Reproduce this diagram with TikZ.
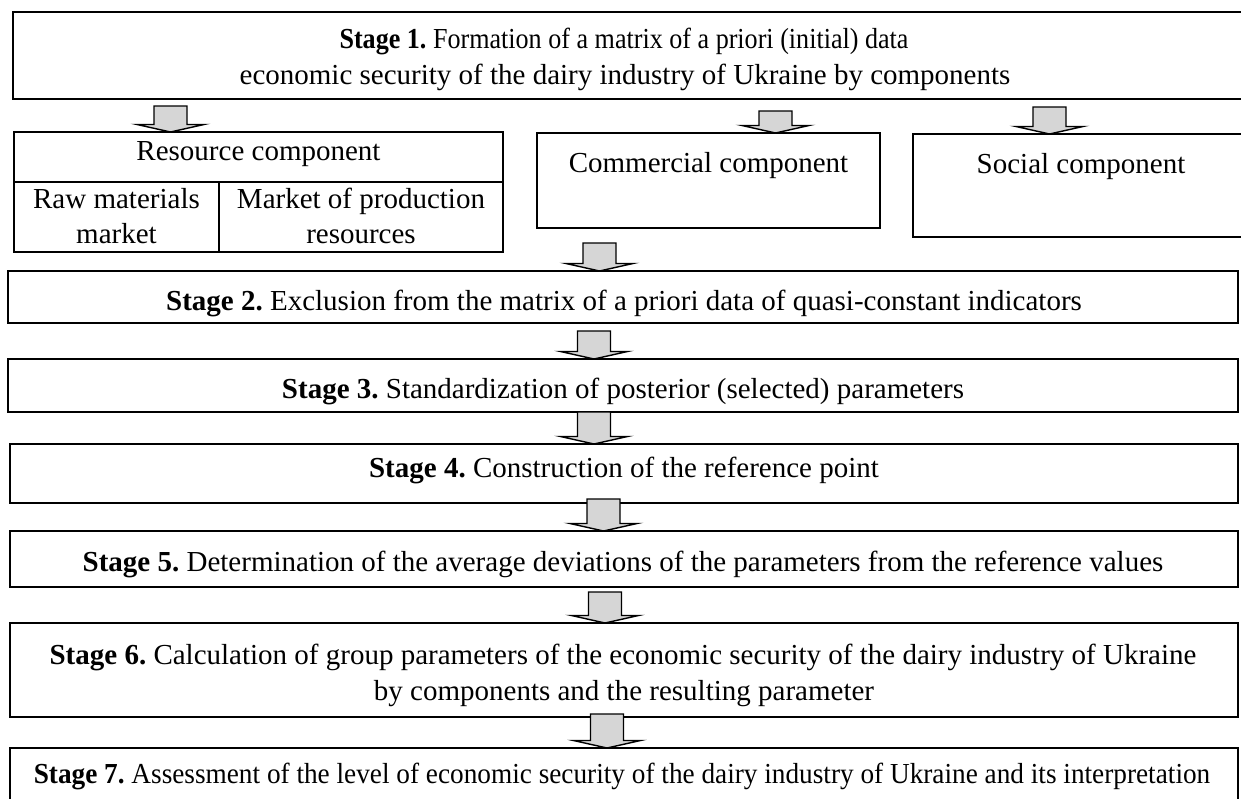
\documentclass[tikz,border=0pt]{standalone}
\usepackage{fontspec}
\setmainfont{Liberation Serif}
\usetikzlibrary{calc}

\definecolor{arrowgray}{RGB}{214,214,214}

\tikzset{
  box/.style={draw, line width=1.8pt, anchor=north west, inner sep=0pt, outer sep=0pt},
  txt/.style={anchor=base, inner sep=0pt, font=\fontsize{29}{35}\selectfont\frenchspacing},
  arrowblock/.style={draw, line width=1.4pt, fill=arrowgray, line join=miter},
}

% Block arrow pointing down: #1 axis x, #2 upper node, #3 lower node, #4 gap under the upper node
\newcommand{\stagearrow}[4]{%
  \draw[arrowblock] let \p1=(#2.south), \p2=(#3.north) in
    (#1pt-16.5pt,\y1-#4pt) -- (#1pt-16.5pt,\y2+7.5pt) -- (#1pt-33.5pt,\y2+7.5pt)
    -- (#1pt,\y2) -- (#1pt+33.5pt,\y2+7.5pt) -- (#1pt+16.5pt,\y2+7.5pt)
    -- (#1pt+16.5pt,\y1-#4pt) -- cycle;}

\begin{document}
\begin{tikzpicture}[x=1pt,y=-1pt]
  \useasboundingbox (0,0) rectangle (1241,798);
  \clip (0,0) rectangle (1241,798);

  % stage 1
  \node[box, minimum width=1231pt, minimum height=87pt] (s1) at (13,12) {};
  \node[txt] (s1a) at (624,48) {\scalebox{0.9}[1]{\textbf{Stage 1.} Formation of a matrix of a priori (initial) data}};
  \node[txt] (s1b) at (625,84) {economic security of the dairy industry of Ukraine by components};

  % components
  \node[box, minimum width=489pt, minimum height=50pt] (resh) at (14,132) {};
  \node[box, minimum width=205pt, minimum height=70pt] (raw) at (14,182) {};
  \node[box, minimum width=284pt, minimum height=70pt] (mkt) at (219,182) {};
  \node[box, minimum width=343pt, minimum height=95pt] (com) at (537,133) {};
  \node[box, minimum width=336pt, minimum height=103pt] (soc) at (913,134) {};

  \node[txt] (resht) at (258.5,160) {Resource component};
  \node[txt] (rawa) at (116.5,208) {Raw materials};
  \node[txt] (rawb) at (116.5,243) {market};
  \node[txt] (mkta) at (361,208) {Market of production};
  \node[txt] (mktb) at (361,243) {resources};
  \node[txt] (comt) at (708.5,172) {Commercial component};
  \node[txt] (soct) at (1081,173) {Social component};

  % stages 2-7
  \node[box, minimum width=1230pt, minimum height=52pt] (s2) at (8,271) {};
  \node[box, minimum width=1230pt, minimum height=53pt] (s3) at (8,359) {};
  \node[box, minimum width=1228pt, minimum height=59pt] (s4) at (10,444) {};
  \node[box, minimum width=1228pt, minimum height=56pt] (s5) at (10,531) {};
  \node[box, minimum width=1228pt, minimum height=94pt] (s6) at (10,623) {};
  \node[box, minimum width=1228pt, minimum height=60pt] (s7) at (10,748) {};

  \node[txt] (s2t) at (624,310) {\textbf{Stage 2.} Exclusion from the matrix of a priori data of quasi-constant indicators};
  \node[txt] (s3t) at (623,398) {\textbf{Stage 3.} Standardization of posterior (selected) parameters};
  \node[txt] (s4t) at (624,477) {\textbf{Stage 4.} Construction of the reference point};
  \node[txt] (s5t) at (623,571) {\textbf{Stage 5.} Determination of the average deviations of the parameters from the reference values};
  \node[txt] (s6a) at (623,664) {\textbf{Stage 6.} Calculation of group parameters of the economic security of the dairy industry of Ukraine};
  \node[txt] (s6b) at (624,700) {by components and the resulting parameter};
  \node[txt] (s7t) at (622,783) {\scalebox{0.94}[1]{\textbf{Stage 7.} Assessment of the level of economic security of the dairy industry of Ukraine and its interpretation}};

  % arrows
  \stagearrow{170.5}{s1}{resh}{7}
  \stagearrow{775.5}{s1}{com}{12}
  \stagearrow{1049.5}{s1}{soc}{8}
  \stagearrow{599.5}{com}{s2}{15}
  \stagearrow{594}{s2}{s3}{8}
  \stagearrow{594}{s3}{s4}{0}
  \stagearrow{603.5}{s4}{s5}{-4}
  \stagearrow{605}{s5}{s6}{5}
  \stagearrow{607}{s6}{s7}{-3}
\end{tikzpicture}
\end{document}
